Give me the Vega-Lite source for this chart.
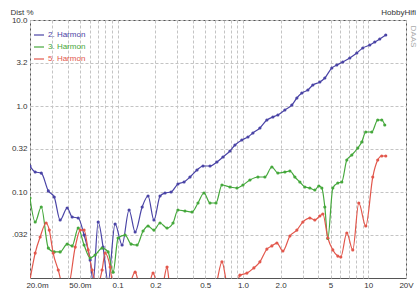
{
  "$schema": "https://vega.github.io/schema/vega-lite/v6.json",
  "width": 376,
  "height": 258,
  "autosize": {"type": "none"},
  "padding": {"left": 30, "top": 20, "right": 11, "bottom": 12},
  "background": "white",
  "title": {"text": "HobbyHifi", "anchor": "end", "fontSize": 8, "fontWeight": "normal", "font": "Liberation Sans", "color": "#333333", "offset": 3, "dy": 12},
  "config": {"view": {"stroke": "#555555", "strokeWidth": 1}, "font": "Liberation Sans"},
  "data": {"values": [
    {"s": "2. Harmon", "f": 0.02, "d": 0.2},
    {"s": "2. Harmon", "f": 0.022, "d": 0.171},
    {"s": "2. Harmon", "f": 0.0246, "d": 0.166},
    {"s": "2. Harmon", "f": 0.028, "d": 0.103},
    {"s": "2. Harmon", "f": 0.0312, "d": 0.0875},
    {"s": "2. Harmon", "f": 0.0348, "d": 0.0472},
    {"s": "2. Harmon", "f": 0.0396, "d": 0.0652},
    {"s": "2. Harmon", "f": 0.0434, "d": 0.0512},
    {"s": "2. Harmon", "f": 0.0485, "d": 0.0498},
    {"s": "2. Harmon", "f": 0.054, "d": 0.0316},
    {"s": "2. Harmon", "f": 0.0604, "d": 0.0162},
    {"s": "2. Harmon", "f": 0.0638, "d": 0.009},
    {"s": "2. Harmon", "f": 0.07, "d": 0.0448},
    {"s": "2. Harmon", "f": 0.0766, "d": 0.0229},
    {"s": "2. Harmon", "f": 0.084, "d": 0.009},
    {"s": "2. Harmon", "f": 0.0955, "d": 0.0425},
    {"s": "2. Harmon", "f": 0.1086, "d": 0.0242},
    {"s": "2. Harmon", "f": 0.1235, "d": 0.0618},
    {"s": "2. Harmon", "f": 0.138, "d": 0.0343},
    {"s": "2. Harmon", "f": 0.157, "d": 0.0669},
    {"s": "2. Harmon", "f": 0.175, "d": 0.0898},
    {"s": "2. Harmon", "f": 0.195, "d": 0.0472},
    {"s": "2. Harmon", "f": 0.218, "d": 0.0898},
    {"s": "2. Harmon", "f": 0.239, "d": 0.0973},
    {"s": "2. Harmon", "f": 0.267, "d": 0.1},
    {"s": "2. Harmon", "f": 0.303, "d": 0.1239},
    {"s": "2. Harmon", "f": 0.339, "d": 0.1307},
    {"s": "2. Harmon", "f": 0.378, "d": 0.1494},
    {"s": "2. Harmon", "f": 0.43, "d": 0.1803},
    {"s": "2. Harmon", "f": 0.48, "d": 0.2006},
    {"s": "2. Harmon", "f": 0.546, "d": 0.2006},
    {"s": "2. Harmon", "f": 0.62, "d": 0.2233},
    {"s": "2. Harmon", "f": 0.693, "d": 0.2553},
    {"s": "2. Harmon", "f": 0.788, "d": 0.2998},
    {"s": "2. Harmon", "f": 0.864, "d": 0.352},
    {"s": "2. Harmon", "f": 0.98, "d": 0.4024},
    {"s": "2. Harmon", "f": 1.096, "d": 0.436},
    {"s": "2. Harmon", "f": 1.201, "d": 0.4853},
    {"s": "2. Harmon", "f": 1.366, "d": 0.5548},
    {"s": "2. Harmon", "f": 1.553, "d": 0.6874},
    {"s": "2. Harmon", "f": 1.734, "d": 0.7451},
    {"s": "2. Harmon", "f": 1.9, "d": 0.7857},
    {"s": "2. Harmon", "f": 2.161, "d": 0.8985},
    {"s": "2. Harmon", "f": 2.457, "d": 1.027},
    {"s": "2. Harmon", "f": 2.694, "d": 1.239},
    {"s": "2. Harmon", "f": 2.952, "d": 1.416},
    {"s": "2. Harmon", "f": 3.296, "d": 1.535},
    {"s": "2. Harmon", "f": 3.613, "d": 1.755},
    {"s": "2. Harmon", "f": 4.107, "d": 1.901},
    {"s": "2. Harmon", "f": 4.502, "d": 2.117},
    {"s": "2. Harmon", "f": 5.119, "d": 2.766},
    {"s": "2. Harmon", "f": 5.61, "d": 2.997},
    {"s": "2. Harmon", "f": 6.264, "d": 3.248},
    {"s": "2. Harmon", "f": 7.121, "d": 3.615},
    {"s": "2. Harmon", "f": 8.097, "d": 4.133},
    {"s": "2. Harmon", "f": 9.042, "d": 4.726},
    {"s": "2. Harmon", "f": 10.28, "d": 5.121},
    {"s": "2. Harmon", "f": 11.27, "d": 5.548},
    {"s": "2. Harmon", "f": 12.35, "d": 6.014},
    {"s": "2. Harmon", "f": 13.79, "d": 6.692},
    {"s": "3. Harmon", "f": 0.02, "d": 0.0852},
    {"s": "3. Harmon", "f": 0.022, "d": 0.0448},
    {"s": "3. Harmon", "f": 0.0246, "d": 0.0669},
    {"s": "3. Harmon", "f": 0.028, "d": 0.0223},
    {"s": "3. Harmon", "f": 0.0312, "d": 0.0201},
    {"s": "3. Harmon", "f": 0.0348, "d": 0.0201},
    {"s": "3. Harmon", "f": 0.0396, "d": 0.0248},
    {"s": "3. Harmon", "f": 0.0434, "d": 0.0236},
    {"s": "3. Harmon", "f": 0.0485, "d": 0.0381},
    {"s": "3. Harmon", "f": 0.054, "d": 0.0242},
    {"s": "3. Harmon", "f": 0.0604, "d": 0.0171},
    {"s": "3. Harmon", "f": 0.0662, "d": 0.0185},
    {"s": "3. Harmon", "f": 0.0752, "d": 0.0223},
    {"s": "3. Harmon", "f": 0.084, "d": 0.0201},
    {"s": "3. Harmon", "f": 0.0921, "d": 0.0117},
    {"s": "3. Harmon", "f": 0.1009, "d": 0.0292},
    {"s": "3. Harmon", "f": 0.1147, "d": 0.0316},
    {"s": "3. Harmon", "f": 0.1281, "d": 0.0248},
    {"s": "3. Harmon", "f": 0.143, "d": 0.0242},
    {"s": "3. Harmon", "f": 0.1597, "d": 0.0352},
    {"s": "3. Harmon", "f": 0.175, "d": 0.0402},
    {"s": "3. Harmon", "f": 0.195, "d": 0.0361},
    {"s": "3. Harmon", "f": 0.218, "d": 0.0436},
    {"s": "3. Harmon", "f": 0.248, "d": 0.0381},
    {"s": "3. Harmon", "f": 0.2768, "d": 0.0436},
    {"s": "3. Harmon", "f": 0.303, "d": 0.0618},
    {"s": "3. Harmon", "f": 0.345, "d": 0.0601},
    {"s": "3. Harmon", "f": 0.3923, "d": 0.0585},
    {"s": "3. Harmon", "f": 0.4379, "d": 0.0745},
    {"s": "3. Harmon", "f": 0.489, "d": 0.0973},
    {"s": "3. Harmon", "f": 0.546, "d": 0.0745},
    {"s": "3. Harmon", "f": 0.6093, "d": 0.0745},
    {"s": "3. Harmon", "f": 0.6802, "d": 0.1206},
    {"s": "3. Harmon", "f": 0.788, "d": 0.1143},
    {"s": "3. Harmon", "f": 0.8959, "d": 0.1113},
    {"s": "3. Harmon", "f": 1.0, "d": 0.1206},
    {"s": "3. Harmon", "f": 1.137, "d": 0.1378},
    {"s": "3. Harmon", "f": 1.317, "d": 0.1494},
    {"s": "3. Harmon", "f": 1.497, "d": 0.1494},
    {"s": "3. Harmon", "f": 1.702, "d": 0.1953},
    {"s": "3. Harmon", "f": 1.9, "d": 0.1663},
    {"s": "3. Harmon", "f": 2.161, "d": 0.1708},
    {"s": "3. Harmon", "f": 2.369, "d": 0.1754},
    {"s": "3. Harmon", "f": 2.596, "d": 0.1494},
    {"s": "3. Harmon", "f": 2.846, "d": 0.1307},
    {"s": "3. Harmon", "f": 3.119, "d": 0.1143},
    {"s": "3. Harmon", "f": 3.419, "d": 0.1113},
    {"s": "3. Harmon", "f": 3.747, "d": 0.1055},
    {"s": "3. Harmon", "f": 4.033, "d": 0.1174},
    {"s": "3. Harmon", "f": 4.261, "d": 0.1113},
    {"s": "3. Harmon", "f": 4.502, "d": 0.0669},
    {"s": "3. Harmon", "f": 4.757, "d": 0.0288},
    {"s": "3. Harmon", "f": 5.214, "d": 0.1113},
    {"s": "3. Harmon", "f": 5.715, "d": 0.1272},
    {"s": "3. Harmon", "f": 6.15, "d": 0.1307},
    {"s": "3. Harmon", "f": 6.742, "d": 0.2355},
    {"s": "3. Harmon", "f": 7.389, "d": 0.2693},
    {"s": "3. Harmon", "f": 8.249, "d": 0.3248},
    {"s": "3. Harmon", "f": 8.875, "d": 0.3814},
    {"s": "3. Harmon", "f": 9.552, "d": 0.4984},
    {"s": "3. Harmon", "f": 10.66, "d": 0.4984},
    {"s": "3. Harmon", "f": 11.9, "d": 0.6874},
    {"s": "3. Harmon", "f": 12.81, "d": 0.6874},
    {"s": "3. Harmon", "f": 13.54, "d": 0.6012},
    {"s": "5. Harmon", "f": 0.02, "d": 0.0095},
    {"s": "5. Harmon", "f": 0.022, "d": 0.0195},
    {"s": "5. Harmon", "f": 0.0241, "d": 0.03},
    {"s": "5. Harmon", "f": 0.0269, "d": 0.0436},
    {"s": "5. Harmon", "f": 0.0285, "d": 0.0361},
    {"s": "5. Harmon", "f": 0.0306, "d": 0.0195},
    {"s": "5. Harmon", "f": 0.0336, "d": 0.0124},
    {"s": "5. Harmon", "f": 0.0368, "d": 0.008},
    {"s": "5. Harmon", "f": 0.0403, "d": 0.008},
    {"s": "5. Harmon", "f": 0.0459, "d": 0.0229},
    {"s": "5. Harmon", "f": 0.0503, "d": 0.0361},
    {"s": "5. Harmon", "f": 0.054, "d": 0.0361},
    {"s": "5. Harmon", "f": 0.0582, "d": 0.0212},
    {"s": "5. Harmon", "f": 0.0626, "d": 0.0124},
    {"s": "5. Harmon", "f": 0.0687, "d": 0.008},
    {"s": "5. Harmon", "f": 0.0752, "d": 0.0124},
    {"s": "5. Harmon", "f": 0.0795, "d": 0.0195},
    {"s": "5. Harmon", "f": 0.0872, "d": 0.0134},
    {"s": "5. Harmon", "f": 0.0921, "d": 0.008},
    {"s": "5. Harmon", "f": 0.1047, "d": 0.008},
    {"s": "5. Harmon", "f": 0.1213, "d": 0.008},
    {"s": "5. Harmon", "f": 0.138, "d": 0.0117},
    {"s": "5. Harmon", "f": 0.1511, "d": 0.008},
    {"s": "5. Harmon", "f": 0.175, "d": 0.008},
    {"s": "5. Harmon", "f": 0.1918, "d": 0.0114},
    {"s": "5. Harmon", "f": 0.2102, "d": 0.008},
    {"s": "5. Harmon", "f": 0.2263, "d": 0.008},
    {"s": "5. Harmon", "f": 0.248, "d": 0.0134},
    {"s": "5. Harmon", "f": 0.262, "d": 0.008},
    {"s": "5. Harmon", "f": 0.378, "d": 0.008},
    {"s": "5. Harmon", "f": 0.598, "d": 0.008},
    {"s": "5. Harmon", "f": 0.6802, "d": 0.0154},
    {"s": "5. Harmon", "f": 0.7596, "d": 0.008},
    {"s": "5. Harmon", "f": 0.8794, "d": 0.008},
    {"s": "5. Harmon", "f": 0.9465, "d": 0.0108},
    {"s": "5. Harmon", "f": 1.076, "d": 0.0114},
    {"s": "5. Harmon", "f": 1.223, "d": 0.0131},
    {"s": "5. Harmon", "f": 1.366, "d": 0.0154},
    {"s": "5. Harmon", "f": 1.553, "d": 0.0217},
    {"s": "5. Harmon", "f": 1.702, "d": 0.0236},
    {"s": "5. Harmon", "f": 1.866, "d": 0.0255},
    {"s": "5. Harmon", "f": 2.083, "d": 0.0206},
    {"s": "5. Harmon", "f": 2.369, "d": 0.0308},
    {"s": "5. Harmon", "f": 2.694, "d": 0.0361},
    {"s": "5. Harmon", "f": 3.007, "d": 0.0448},
    {"s": "5. Harmon", "f": 3.419, "d": 0.0498},
    {"s": "5. Harmon", "f": 3.747, "d": 0.0472},
    {"s": "5. Harmon", "f": 4.107, "d": 0.0526},
    {"s": "5. Harmon", "f": 4.34, "d": 0.0555},
    {"s": "5. Harmon", "f": 4.757, "d": 0.0292},
    {"s": "5. Harmon", "f": 5.214, "d": 0.0212},
    {"s": "5. Harmon", "f": 5.715, "d": 0.018},
    {"s": "5. Harmon", "f": 6.038, "d": 0.01755},
    {"s": "5. Harmon", "f": 6.742, "d": 0.0334},
    {"s": "5. Harmon", "f": 7.52, "d": 0.0212},
    {"s": "5. Harmon", "f": 8.402, "d": 0.0745},
    {"s": "5. Harmon", "f": 9.552, "d": 0.0402},
    {"s": "5. Harmon", "f": 10.86, "d": 0.1494},
    {"s": "5. Harmon", "f": 11.9, "d": 0.2355},
    {"s": "5. Harmon", "f": 12.81, "d": 0.2623},
    {"s": "5. Harmon", "f": 13.79, "d": 0.2623}
  ]},
  "encoding": {
    "x": {
      "field": "f", "type": "quantitative",
      "scale": {"type": "log", "domain": [0.02, 20]},
      "axis": {
        "title": null,
        "values": [0.02, 0.03, 0.04, 0.05, 0.06, 0.07, 0.08, 0.09, 0.1, 0.2, 0.3, 0.4, 0.5, 0.6, 0.7, 0.8, 0.9, 1, 2, 3, 4, 5, 6, 7, 8, 9, 10, 20],
        "labelExpr": "datum.value==0.02?'20.0m':datum.value==0.05?'50.0m':datum.value==0.1?'0.1':datum.value==0.2?'0.2':datum.value==0.5?'0.5':datum.value==1?'1.0':datum.value==2?'2.0':datum.value==5?'5':datum.value==10?'10':datum.value==20?'20V':''",
        "grid": true, "gridColor": "#c4c4c4", "gridDash": [3, 2], "gridWidth": 1,
        "ticks": false, "domain": false,
        "labelFontSize": 8, "labelColor": "#333333", "labelPadding": 3,
        "labelOverlap": false, "labelBound": false, "labelFlush": false,
        "labelOffset": {"condition": {"test": "datum.value < 0.025", "value": 7}, "value": 0}
      }
    },
    "y": {
      "field": "d", "type": "quantitative",
      "scale": {"type": "log", "domain": [0.01, 10]},
      "axis": {
        "title": "Dist %", "titleAngle": 0, "titleAlign": "left", "titleBaseline": "alphabetic",
        "titleX": -20, "titleY": -6, "titleFontSize": 8, "titleFontWeight": "normal", "titleColor": "#333333",
        "values": [0.0316228, 0.1, 0.316228, 1, 3.16228, 10],
        "labelExpr": "datum.value>5?'10.0':datum.value>2?'3.2':datum.value>0.5?'1.0':datum.value>0.2?'0.32':datum.value>0.05?'0.10':'.032'",
        "grid": true, "gridColor": "#c4c4c4", "gridDash": [3, 2],
        "ticks": false, "domain": false,
        "labelFontSize": 8, "labelColor": "#333333", "labelPadding": 3, "labelOverlap": false, "labelBound": false
      }
    },
    "color": {
      "field": "s", "type": "nominal",
      "scale": {"domain": ["2. Harmon", "3. Harmon", "5. Harmon"], "range": ["#4a44a6", "#45a83c", "#e2574c"]},
      "legend": {
        "title": null, "orient": "none", "legendX": 3, "legendY": 9, "padding": 0,
        "labelFontSize": 8, "symbolType": "stroke", "symbolSize": 100, "symbolStrokeWidth": 1.2,
        "rowPadding": 2, "labelOffset": 3,
        "encode": {"labels": {"update": {"fill": {"scale": "color", "field": "value"}}}}
      }
    }
  },
  "layer": [
    {"mark": {"type": "line", "clip": true, "strokeWidth": 1.2, "interpolate": "monotone"}},
    {
      "mark": {"type": "circle", "clip": true, "size": 10, "opacity": 1},
      "encoding": {
        "y": {
          "field": "d", "type": "quantitative",
          "scale": {"type": "log", "domain": [0.01, 10]},
          "axis": {
            "orient": "right", "title": "DAAS", "titleAngle": 90, "titleFontSize": 8, "titleFontWeight": "normal",
            "titleColor": "#aaaaaa", "titleX": 6, "titleY": 16, "titleAlign": "center", "titleBaseline": "middle",
            "labels": false, "ticks": false, "grid": false, "domain": false
          }
        }
      }
    }
  ],
  "resolve": {"axis": {"y": "independent"}}
}
